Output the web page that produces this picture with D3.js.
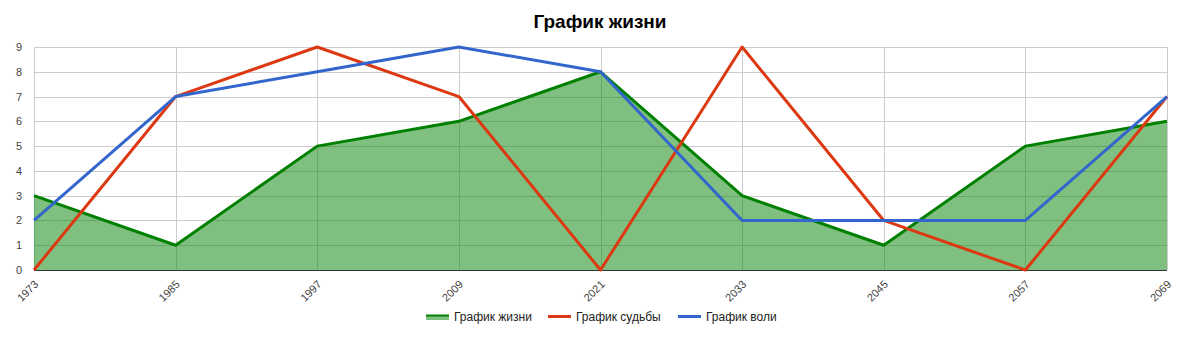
<!DOCTYPE html>
<html>
<head>
<meta charset="utf-8">
<script src="https://cdn.jsdelivr.net/npm/d3@7"></script>
<style>
  body { margin: 0; background: #fff; }
  svg { display: block; font-family: Arial, "Liberation Sans", sans-serif; }
</style>
</head>
<body>
<div id="chart"></div>
<script>
(function () {
  'use strict';

  var years = ['1973', '1985', '1997', '2009', '2021', '2033', '2045', '2057', '2069'];
  var life = [3, 1, 5, 6, 8, 3, 1, 5, 6];
  var fate = [0, 7, 9, 7, 0, 9, 2, 0, 7];
  var will = [2, 7, 8, 9, 8, 2, 2, 2, 7];
  var yTicks = [0, 1, 2, 3, 4, 5, 6, 7, 8, 9];

  var COLORS = {
    LIFE: '#008000',
    FATE: '#dc3912',
    WILL: '#3366cc'
  };

  var width = 1200;
  var height = 345;
  var m = { left: 34, right: 33, top: 47, bottom: 75 };

  var svg = d3.select('#chart').append('svg')
    .attr('width', width)
    .attr('height', height);

  var x = d3.scalePoint()
    .domain(years)
    .range([m.left, width - m.right]);

  var y = d3.scaleLinear()
    .domain([0, 9])
    .range([height - m.bottom, m.top]);

  /* title */
  svg.append('text')
    .attr('x', width / 2)
    .attr('y', 28)
    .attr('text-anchor', 'middle')
    .style('font-size', '19px')
    .style('font-weight', 'bold')
    .style('fill', '#000')
    .text('График жизни');

  /* grid */
  svg.append('g')
    .selectAll('line.h')
    .data(yTicks)
    .enter()
    .append('line')
    .attr('x1', m.left)
    .attr('x2', width - m.right)
    .attr('y1', function (d) { return Math.round(y(d)) + 0.5; })
    .attr('y2', function (d) { return Math.round(y(d)) + 0.5; })
    .attr('stroke', '#cccccc');

  svg.append('g')
    .selectAll('line.v')
    .data(years)
    .enter()
    .append('line')
    .attr('x1', function (d) { return Math.round(x(d)) + 0.5; })
    .attr('x2', function (d) { return Math.round(x(d)) + 0.5; })
    .attr('y1', m.top)
    .attr('y2', height - m.bottom)
    .attr('stroke', '#cccccc');

  /* area */
  var area = d3.area()
    .x(function (d, i) { return x(years[i]); })
    .y0(y(0))
    .y1(function (d) { return y(d); });

  svg.append('path')
    .datum(life)
    .attr('d', area)
    .attr('fill', COLORS.LIFE)
    .attr('fill-opacity', 0.5);

  /* baseline */
  svg.append('line')
    .attr('x1', m.left)
    .attr('x2', width - m.right)
    .attr('y1', Math.round(y(0)) + 0.5)
    .attr('y2', Math.round(y(0)) + 0.5)
    .attr('stroke', '#333333');

  var line = d3.line()
    .x(function (d, i) { return x(years[i]); })
    .y(function (d) { return y(d); });

  [[life, COLORS.LIFE], [fate, COLORS.FATE], [will, COLORS.WILL]].forEach(function (s) {
    svg.append('path')
      .datum(s[0])
      .attr('d', line)
      .attr('fill', 'none')
      .attr('stroke', s[1])
      .attr('stroke-width', 3)
      .attr('stroke-linejoin', 'round');
  });

  /* y labels */
  svg.append('g')
    .selectAll('text')
    .data(yTicks)
    .enter()
    .append('text')
    .attr('x', 22)
    .attr('y', function (d) { return y(d) + 4; })
    .attr('text-anchor', 'end')
    .style('font-size', '11px')
    .style('fill', '#444')
    .text(function (d) { return d; });

  /* x labels, slanted */
  svg.append('g')
    .selectAll('text')
    .data(years)
    .enter()
    .append('text')
    .attr('transform', function (d) {
      return 'translate(' + (x(d) + 5) + ',' + (y(0) + 15) + ') rotate(-45)';
    })
    .attr('text-anchor', 'end')
    .style('font-size', '11px')
    .style('fill', '#444')
    .text(function (d) { return d; });

  /* legend */
  var legend = [
    { name: 'График жизни', color: COLORS.LIFE, area: true, x: 426 },
    { name: 'График судьбы', color: COLORS.FATE, area: false, x: 548 },
    { name: 'График воли', color: COLORS.WILL, area: false, x: 678 }
  ];
  var ly = 316;
  var lg = svg.append('g').selectAll('g').data(legend).enter().append('g');
  lg.filter(function (d) { return d.area; })
    .append('rect')
    .attr('x', function (d) { return d.x; })
    .attr('y', ly - 1)
    .attr('width', 23)
    .attr('height', 5)
    .attr('fill', function (d) { return d.color; })
    .attr('fill-opacity', 0.5);
  lg.append('line')
    .attr('x1', function (d) { return d.x; })
    .attr('x2', function (d) { return d.x + 23; })
    .attr('y1', function (d) { return d.area ? ly - 0.5 : ly + 0.5; })
    .attr('y2', function (d) { return d.area ? ly - 0.5 : ly + 0.5; })
    .attr('stroke', function (d) { return d.color; })
    .attr('stroke-width', function (d) { return d.area ? 2 : 3; });
  lg.append('text')
    .attr('x', function (d) { return d.x + 28; })
    .attr('y', ly + 5)
    .style('font-size', '12px')
    .style('fill', '#222')
    .text(function (d) { return d.name; });
}());
</script>
</body>
</html>
